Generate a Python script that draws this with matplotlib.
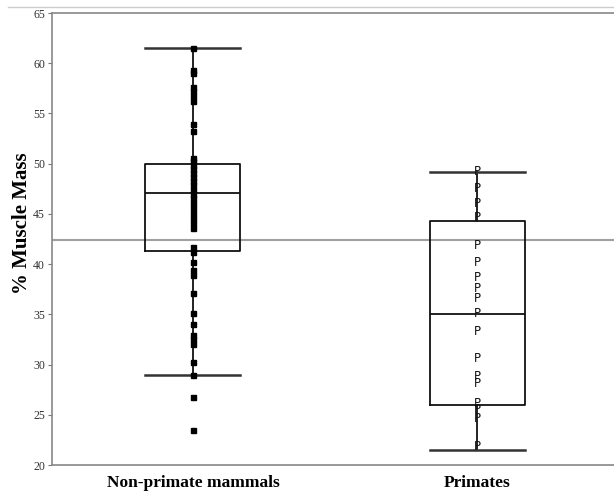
import matplotlib
matplotlib.use("Agg")
import matplotlib.pyplot as plt
from matplotlib.lines import Line2D

# ---- data ----
categories = ["Non-primate mammals", "Primates"]

nonprimate_values = [61.5, 59.3, 59.0, 57.6, 57.2, 56.7, 56.2, 53.9, 53.3,
                     50.6, 50.3, 49.9, 49.5, 49.1, 48.7, 48.3, 47.9, 47.4,
                     47.0, 46.6, 46.1, 45.6, 45.1, 44.6, 44.1, 43.6,
                     41.7, 41.2, 40.2, 39.4, 38.9, 37.1, 35.1, 34.0, 32.9,
                     32.5, 32.0, 30.3, 29.0, 26.8, 23.5]

primate_values = [49.2, 47.5, 46.0, 44.6, 41.9, 40.2, 38.7, 37.6, 36.6,
                  35.1, 33.3, 30.6, 28.8, 28.1, 26.1, 25.5, 24.6, 21.8]

# box statistics: (whislo, q1, median, q3, whishi)
nonprimate_box = [29.0, 41.3, 47.05, 50.0, 61.5]
primate_box = [21.5, 26.0, 35.0, 44.3, 49.2]

overall_mean = 42.4

yticks = [20, 25, 30, 35, 40, 45, 50, 55, 60, 65]

# ---- figure ----
plt.rcParams['font.family'] = ['Liberation Serif', 'DejaVu Serif']
fig = plt.figure(figsize=(6.14, 4.92), dpi=100)
W, H = 614, 492
ax = fig.add_axes([52 / W, (H - 465) / H, (W - 52) / W, 452 / H])

stats = []
for lab, b in zip(categories, [nonprimate_box, primate_box]):
    stats.append(dict(label=lab, whislo=b[0], q1=b[1], med=b[2], q3=b[3],
                      whishi=b[4], fliers=[]))

ax.bxp(stats, positions=[0, 1], widths=0.334, showfliers=False,
       boxprops=dict(color='#111111', linewidth=1.3),
       medianprops=dict(color='#111111', linewidth=1.3),
       whiskerprops=dict(color='#111111', linewidth=1.3),
       capprops=dict(color='#333333', linewidth=1.8),
       capwidths=0.334)

# grand mean line
ax.axhline(overall_mean, color='#a0a0a0', linewidth=1.5, zorder=1)

# non-primate points
ax.plot([0] * len(nonprimate_values), nonprimate_values, linestyle='none',
        marker='s', markersize=3.6, color='black', zorder=4)

# primate points as "P"
for v in primate_values:
    ax.text(1, v, "P", ha='center', va='center', fontsize=8.5,
            family=['DejaVu Sans'], color='#111111', zorder=4)

ax.set_xlim(-0.496, 1.482)
ax.set_ylim(20, 65)
ax.set_yticks(yticks)
ax.set_yticklabels([str(t) for t in yticks], fontsize=8.6, color='#333333')
ax.tick_params(axis='y', length=3, width=0.8, color='#777777', pad=2)
ax.set_xticks([0, 1])
ax.set_xticklabels(categories, fontsize=12.5, fontweight='bold')
ax.tick_params(axis='x', length=0, pad=7)

ax.spines['right'].set_visible(False)
for s in ['left', 'bottom', 'top']:
    ax.spines[s].set_color('#888888')
    ax.spines[s].set_linewidth(1.2)

ax.set_ylabel("% Muscle Mass", fontsize=15, fontweight='bold')
ax.yaxis.set_label_coords(-0.036, 0.535)

# thin frame line at very top of the figure
fig.add_artist(Line2D([8 / W, 1.0], [(H - 7) / H, (H - 7) / H],
                      color='#cccccc', linewidth=1.0))

fig.savefig("out.png", dpi=100)
